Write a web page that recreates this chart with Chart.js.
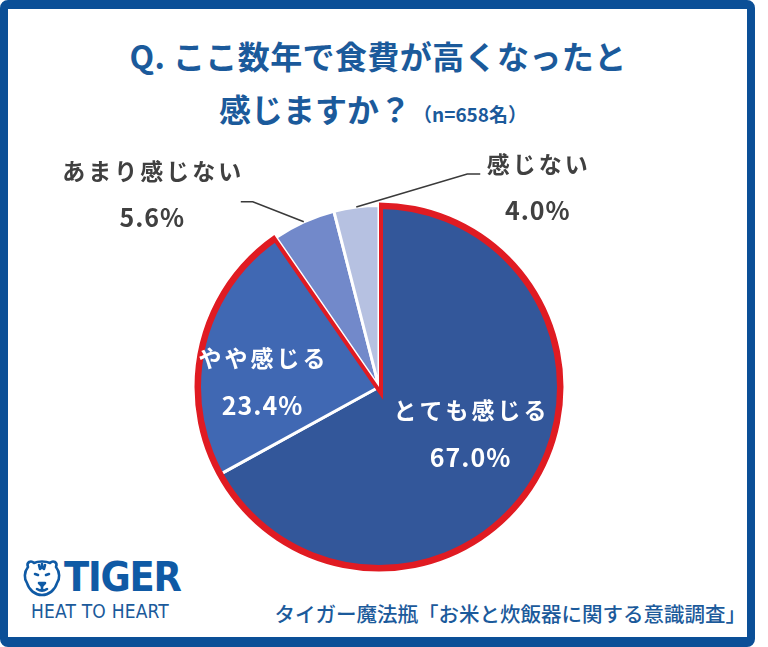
<!DOCTYPE html>
<html lang="ja">
<head>
<meta charset="utf-8">
<script src="https://cdn.jsdelivr.net/npm/chart.js@4.4.1/dist/chart.umd.min.js"></script>
<style>
  html, body { margin:0; padding:0; background:#fff; }
  #wrap { position:relative; width:768px; height:647px; overflow:hidden; background:#fff; }
  #frame { position:absolute; left:0; top:0; width:755px; height:647px; box-sizing:border-box;
           border-style:solid; border-color:#0B4F97; border-width:9px 8px 10px 8px; border-radius:8px; }
  .t { position:absolute; white-space:nowrap; font-family:"Noto Sans CJK JP","Noto Sans",sans-serif; color:#1B5A9B; }
  #title1 { left:0; width:756px; text-align:center; top:35px; font-size:32px; font-weight:700; line-height:40px; letter-spacing:0.4px; }
  #title2 { left:219px; top:88px; font-size:32px; font-weight:700; line-height:40px; }
  #title2 span { font-size:19px; margin-left:2px; }
  #source { right:22px; top:598px; font-size:20.5px; font-weight:500; line-height:30px; color:#1B5A9B; }
  #logo { position:absolute; left:64px; top:554px; font-family:"DejaVu Sans Condensed","Liberation Sans Narrow","DejaVu Sans",sans-serif;
          font-weight:700; font-size:41px; line-height:46px; color:#0F5AA5; letter-spacing:-1.2px; }
  #heat { position:absolute; left:31px; top:599px; font-family:"Liberation Sans Narrow","DejaVu Sans Condensed",sans-serif;
          font-size:19px; line-height:24px; color:#1B5A9B; letter-spacing:0.2px; }
  #icon { position:absolute; left:22px; top:559px; }
  canvas { position:absolute; left:0; top:0; }
</style>
</head>
<body>
<div id="wrap">
  <div id="frame"></div>
  <div class="t" id="title1">Q. ここ数年で食費が高くなったと</div>
  <div class="t" id="title2">感じますか？<span>（n=658名）</span></div>
  <svg id="icon" width="40" height="38" viewBox="0 0 40 38">
    <g fill="none" stroke="#0F5AA5" stroke-width="2.6" stroke-linejoin="round" stroke-linecap="round">
      <path d="M6 8 C4 3 9 1 12 4 C16 2 24 2 28 4 C31 1 36 3 34 8 C38 13 38 20 35 24 C33 31 27 36 20 36 C13 36 7 31 5 24 C2 20 2 13 6 8 Z"/>
      <path d="M13 15 L16 16 M27 15 L24 16"/>
      <path d="M17 24 L20 27 L23 24 Z"/>
      <path d="M20 27 L20 30 M15 30 C18 32 22 32 25 30"/>
      <path d="M17 6 L18 10 M23 6 L22 10 M20 5 L20 9"/>
    </g>
  </svg>
  <div id="logo">TIGER</div>
  <div id="heat">HEAT TO HEART</div>
  <div class="t" id="source">タイガー魔法瓶「お米と炊飯器に関する意識調査」</div>
  <canvas id="c" width="768" height="647"></canvas>
</div>
<script>
// ---- data ----
const categories = ['とても感じる', 'やや感じる', 'あまり感じない', '感じない'];
const values = [67.0, 23.4, 5.6, 4.0];
const percentLabels = ['67.0%', '23.4%', '5.6%', '4.0%'];
const sliceColors = ['#33579A', '#4068B3', '#7289CA', '#B6C1E1'];
const outlinedSlices = [0, 1];

// label layout (relative placement, styling only)
const labelLayout = [
  { inside: true, dx: 91, dy: 46, color: '#FFFFFF' },
  { inside: true, dx: -117, dy: -6, color: '#FFFFFF' },
  { inside: false, color: '#404040', elbow: [-51, -20], end: [-63, -20], text: [-152, -28] },
  { inside: false, color: '#404040', elbow: [111, -33], end: [124, -33], text: [181, -20] }
];

const RED = '#E01B22';

const outlinePlugin = {
  id: 'outline',
  afterDatasetsDraw(chart) {
    const meta = chart.getDatasetMeta(0);
    const first = meta.data[outlinedSlices[0]];
    const last = meta.data[outlinedSlices[outlinedSlices.length - 1]];
    const x = first.x, y = first.y, r = first.outerRadius;
    const start = first.startAngle, end = last.endAngle;
    const ctx = chart.ctx;
    ctx.save();
    ctx.beginPath(); ctx.moveTo(x, y); ctx.arc(x, y, r + 3, start, end); ctx.closePath(); ctx.clip();
    ctx.beginPath(); ctx.moveTo(x, y); ctx.arc(x, y, r + 0.5, start, end); ctx.closePath();
    ctx.lineWidth = 8; ctx.strokeStyle = RED; ctx.lineJoin = 'miter'; ctx.stroke();
    ctx.restore();
  }
};

const labelPlugin = {
  id: 'labels',
  afterDraw(chart) {
    const meta = chart.getDatasetMeta(0);
    const ctx = chart.ctx;
    ctx.save();
    ctx.textAlign = 'center';
    ctx.textBaseline = 'middle';
    meta.data.forEach((arc, i) => {
      const L = labelLayout[i];
      const cx = arc.x, cy = arc.y, r = arc.outerRadius;
      let tx, ty;
      if (L.inside) {
        tx = cx + L.dx; ty = cy + L.dy;
      } else {
        const mid = (arc.startAngle + arc.endAngle) / 2;
        const ax = cx + Math.cos(mid) * r, ay = cy + Math.sin(mid) * r;
        ctx.beginPath();
        ctx.moveTo(ax, ay);
        ctx.lineTo(ax + L.elbow[0], ay + L.elbow[1]);
        ctx.lineTo(ax + L.end[0], ay + L.end[1]);
        ctx.lineWidth = 1.6; ctx.strokeStyle = '#3A3A3A'; ctx.stroke();
        tx = ax + L.text[0]; ty = ay + L.text[1];
      }
      ctx.fillStyle = L.color;
      ctx.font = '700 23px "Noto Sans CJK JP", sans-serif';
      if ('letterSpacing' in ctx) ctx.letterSpacing = '3px';
      ctx.fillText(categories[i], tx + 1.5, ty - 23);
      ctx.font = '700 25px "Noto Sans CJK JP", sans-serif';
      if ('letterSpacing' in ctx) ctx.letterSpacing = '1px';
      ctx.fillText(percentLabels[i], tx + 0.5, ty + 24);
    });
    ctx.restore();
  }
};

new Chart(document.getElementById('c'), {
  type: 'pie',
  data: {
    labels: categories,
    datasets: [{
      data: values,
      backgroundColor: sliceColors,
      borderColor: '#FFFFFF',
      borderWidth: 3
    }]
  },
  options: {
    responsive: false,
    animation: false,
    layout: { padding: { left: 196, right: 206, top: 204, bottom: 77 } },
    plugins: { legend: { display: false }, tooltip: { enabled: false }, title: { display: false } }
  },
  plugins: [outlinePlugin, labelPlugin]
});
</script>
</body>
</html>
